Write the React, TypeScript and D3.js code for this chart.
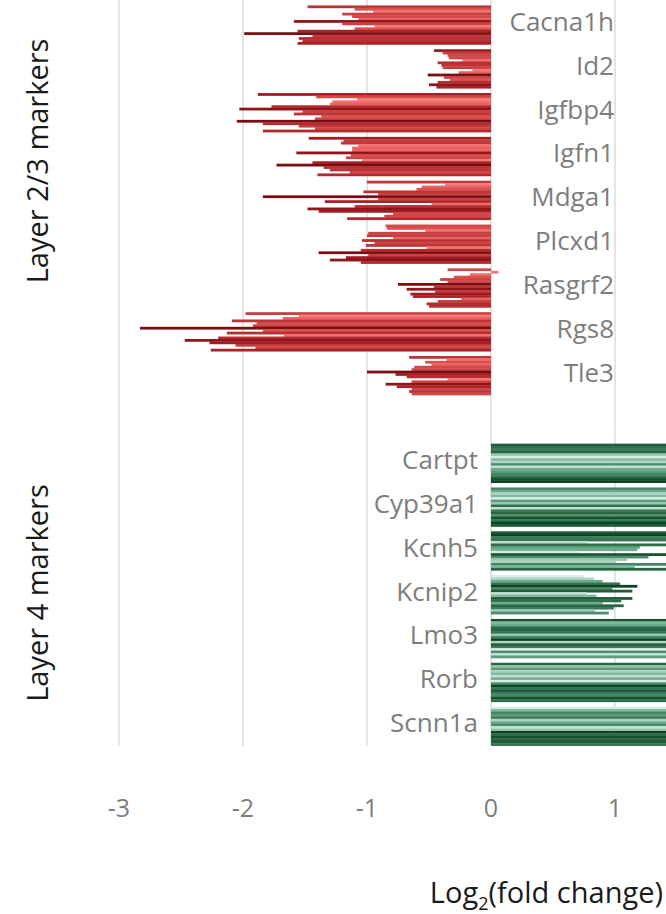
import React from 'react';
import * as d3 from 'd3';

// ---- data ----
const layer23Genes = ['Cacna1h', 'Id2', 'Igfbp4', 'Igfn1', 'Mdga1', 'Plcxd1', 'Rasgrf2', 'Rgs8', 'Tle3'];
const layer4Genes = ['Cartpt', 'Cyp39a1', 'Kcnh5', 'Kcnip2', 'Lmo3', 'Rorb', 'Scnn1a'];

const cacna1h = [-1.48, -1.10, -0.95, -1.20, -1.12, -1.07, -1.59, -1.20, -0.94, -1.10, -1.56, -1.99, -1.44, -1.55, -1.52, -1.56];
const id2 = [-0.46, -0.39, -0.35, -0.34, -0.23, -0.43, -0.40, -0.39, -0.15, -0.26, -0.51, -0.38, -0.33, -0.43, -0.50, -0.44];
const igfbp4 = [-1.88, -1.41, -1.08, -1.28, -1.30, -1.77, -2.03, -1.52, -1.59, -1.37, -1.42, -2.05, -1.84, -1.55, -1.42, -1.84];
const igfn1 = [-1.47, -1.19, -1.21, -1.07, -1.12, -1.12, -1.57, -1.13, -1.17, -1.04, -1.44, -1.73, -1.35, -1.30, -1.14, -1.40];
const mdga1 = [-1.00, -0.37, -0.56, -0.60, -1.03, -0.91, -1.84, -0.91, -1.34, -0.48, -1.10, -1.48, -1.39, -0.79, -0.86, -1.16];
const plcxd1 = [-0.85, -0.84, -0.53, -0.99, -1.00, -0.79, -1.04, -0.94, -1.01, -0.52, -1.05, -1.39, -0.99, -1.17, -1.30, -1.05];
const rasgrf2 = [-0.35, 0.06, -0.17, -0.30, -0.41, -0.35, -0.75, -0.46, -0.68, -0.45, -0.65, -0.63, -0.24, -0.43, -0.52, -0.50];
const rgs8 = [-1.98, -1.55, -1.68, -2.09, -1.89, -1.92, -2.83, -1.84, -2.13, -1.67, -2.20, -2.47, -2.27, -2.06, -1.90, -2.26];
const tle3 = [-0.66, -0.36, -0.53, -0.48, -0.62, -0.64, -1.00, -0.77, -0.68, -0.35, -0.64, -0.85, -0.76, -0.64, -0.66, -0.64];

const cartpt = [2.7, 2.4, 2.2, 2.45, 1.75, 1.55, 1.85, 1.7, 2.05, 1.6, 1.9, 1.95, 2.1, 2.3, 2.8, 3.0];
const cyp39a1 = [2.3, 2.0, 1.65, 1.9, 1.5, 2.15, 1.75, 2.55, 1.6, 2.35, 2.6, 2.2, 2.8, 2.4, 3.0, 2.7];
const kcnh5 = [2.3, 2.6, 1.9, 2.0, 0.78, 2.1, 1.20, 1.18, 0.72, 2.4, 1.27, 1.10, 1.01, 1.5, 1.16, 2.2];
const kcnip2 = [0.75, 0.83, 0.90, 1.04, 1.18, 0.98, 1.14, 0.77, 0.85, 1.14, 1.05, 0.90, 1.07, 0.99, 0.84, 0.95];
const lmo3 = [2.7, 1.8, 1.95, 2.4, 2.45, 2.35, 1.65, 2.2, 2.9, 1.6, 2.5, 2.25, 1.5, 2.15, 1.55, 2.05];
const rorb = [2.6, 1.7, 1.95, 1.6, 1.8, 1.55, 1.9, 1.5, 2.05, 3.0, 2.4, 2.65, 2.35, 2.2, 2.7, 2.45];
const scnn1a = [1.5, 1.8, 2.1, 1.9, 2.2, 1.65, 1.85, 2.0, 1.55, 1.7, 3.0, 2.4, 2.7, 2.45, 2.65, 2.35];

const layer23Values = [cacna1h, id2, igfbp4, igfn1, mdga1, plcxd1, rasgrf2, rgs8, tle3];
const layer4Values = [cartpt, cyp39a1, kcnh5, kcnip2, lmo3, rorb, scnn1a];

const xTicks = [-3, -2, -1, 0, 1];
const groupLabels = ['Layer 2/3 markers', 'Layer 4 markers'];

// ---- styling ----
const W = 666;
const H = 914;
const FONT = "'Open Sans', 'Noto Sans', sans-serif";
const GAP = '__gap';

const redRamp = d3.scaleLinear<string>()
  .domain([0, 0.12, 0.22, 0.5, 0.75, 0.9, 1])
  .range(['#f47a77', '#ec6664', '#d44b4a', '#c43c3e', '#b2282c', '#9a191e', '#780e12'])
  .interpolate(d3.interpolateRgb);
const greenRamp = d3.scaleLinear<string>()
  .domain([0, 0.15, 0.3, 0.45, 0.6, 0.75, 0.9, 1])
  .range(['#d6ede2', '#a6d2be', '#76b195', '#4f8f6e', '#3b7b59', '#2b6b49', '#1b5634', '#0b4420'])
  .interpolate(d3.interpolateRgb);

type Row = { gene: string; group: number; values: number[] };

const rows: Row[] = [
  ...layer23Genes.map((g, i) => ({ gene: g, group: 0, values: layer23Values[i] })),
  ...layer4Genes.map((g, i) => ({ gene: g, group: 1, values: layer4Values[i] })),
];

export default function App() {
  const x = d3.scaleLinear().domain([-3, 1]).range([119, 615]);
  const slots = [...layer23Genes, GAP, ...layer4Genes];
  const y = d3.scaleBand<string>().domain(slots).range([3, 748]).paddingInner(0.11).paddingOuter(0.055);
  const inner = d3.scaleBand<number>().domain(d3.range(16)).range([0, y.bandwidth()]);

  const gridTop = 0;
  const gridBottom = 746;

  const bars: React.ReactElement[] = [];
  rows.forEach((row) => {
    const abs = row.values.map((v) => Math.abs(v));
    const sorted = [...abs].sort((a, b) => a - b);
    const ramp = row.group === 0 ? redRamp : greenRamp;
    row.values.forEach((v, i) => {
      const rank = sorted.indexOf(abs[i]) / (sorted.length - 1);
      const x0 = x(0);
      const x1 = x(v);
      bars.push(
        <rect
          key={row.gene + i}
          x={Math.min(x0, x1)}
          y={(y(row.gene) as number) + (inner(i) as number)}
          width={Math.abs(x1 - x0)}
          height={inner.bandwidth() + 0.35}
          fill={ramp(rank)}
        />
      );
    });
  });

  // group label centres, relative to the gene bands
  const c23 = (y('Cacna1h') as number) + 3.55 * y.step();
  const c4 = (y('Cartpt') as number) + 3.5 * y.step() - 4;

  return (
    <svg
      width={W}
      height={H}
      style={{ position: 'absolute', left: 0, top: 0, background: '#fff' }}
      fontFamily={FONT}
    >
      <rect x={0} y={0} width={W} height={H} fill="#fff" />
      {xTicks.map((t) => (
        <line key={'g' + t} x1={x(t)} x2={x(t)} y1={gridTop} y2={gridBottom} stroke="#dedede" strokeWidth={1.6} />
      ))}
      {bars}
      {rows.map((row) => (
        <text
          key={'l' + row.gene}
          x={row.group === 0 ? 614 : 478}
          y={(y(row.gene) as number) + y.bandwidth() / 2 + 6}
          textAnchor="end"
          fontSize={26}
          fill="#7d7d7d"
        >
          {row.gene}
        </text>
      ))}
      {xTicks.map((t) => (
        <text key={'t' + t} x={x(t)} y={817} textAnchor="middle" fontSize={25} fill="#7d7d7d">
          {t}
        </text>
      ))}
      <text x={663} y={903} textAnchor="end" fontSize={29} fill="#1a1a1a">
        Log<tspan fontSize={18} dy={7}>2</tspan>
        <tspan dy={-7}>(fold change)</tspan>
      </text>
      <text
        transform={`translate(48, ${c23}) rotate(-90)`}
        textAnchor="middle"
        fontSize={29}
        fill="#1a1a1a"
      >
        {groupLabels[0]}
      </text>
      <text
        transform={`translate(48, ${c4}) rotate(-90)`}
        textAnchor="middle"
        fontSize={29}
        fill="#1a1a1a"
      >
        {groupLabels[1]}
      </text>
    </svg>
  );
}
